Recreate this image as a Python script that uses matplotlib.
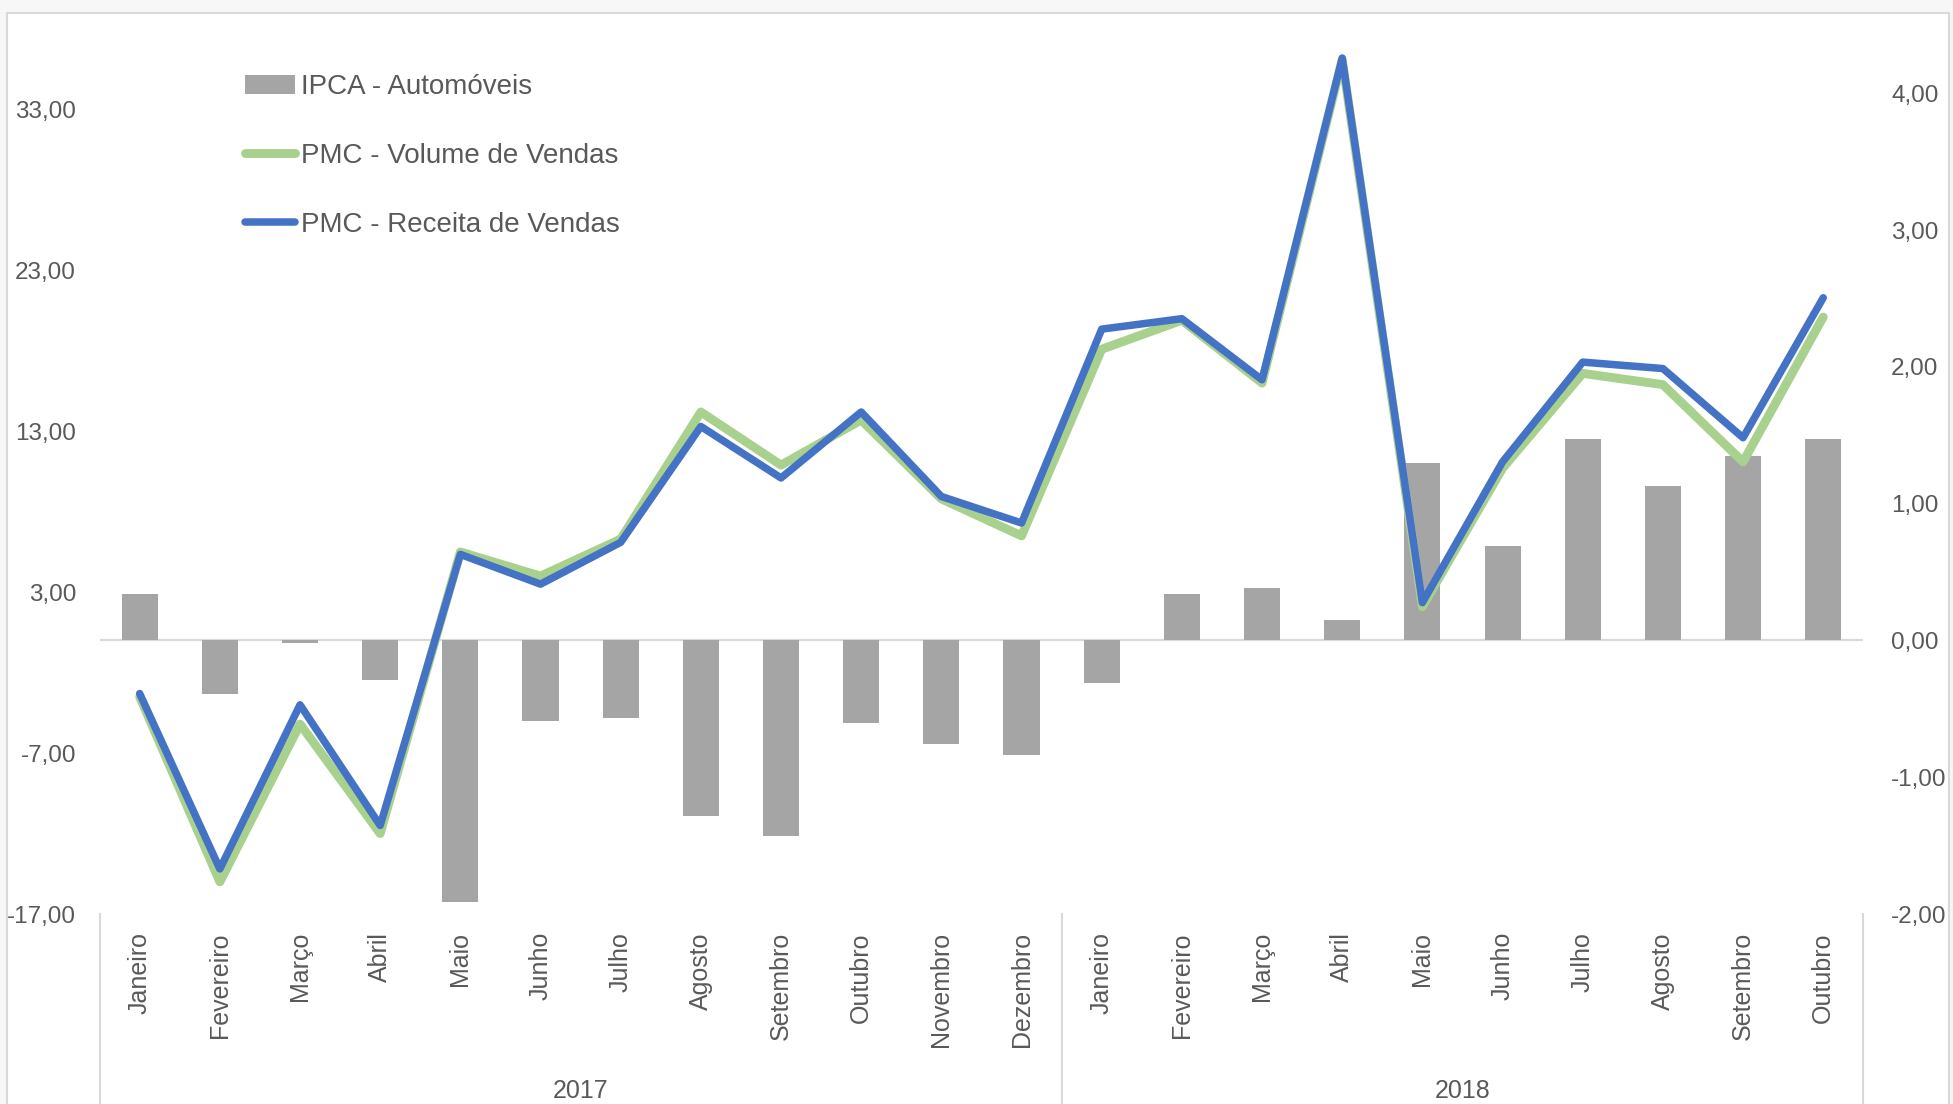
import matplotlib
matplotlib.use('Agg')
import matplotlib.pyplot as plt
from matplotlib.patches import Rectangle, Patch
from matplotlib.lines import Line2D
import matplotlib.transforms as mtransforms

plt.rcParams['font.family'] = ['Liberation Sans', 'DejaVu Sans']

# ---------------- data ----------------
months = ['Janeiro', 'Fevereiro', 'Março', 'Abril', 'Maio', 'Junho', 'Julho',
          'Agosto', 'Setembro', 'Outubro', 'Novembro', 'Dezembro',
          'Janeiro', 'Fevereiro', 'Março', 'Abril', 'Maio', 'Junho', 'Julho',
          'Agosto', 'Setembro', 'Outubro']
years = ['2017', '2018']
year_counts = [12, 10]

ipca_auto = [0.34, -0.39, -0.02, -0.29, -1.91, -0.59, -0.57, -1.28, -1.43, -0.60,
             -0.76, -0.84, -0.31, 0.34, 0.38, 0.15, 1.30, 0.69, 1.47, 1.13, 1.35, 1.47]
pmc_volume = [-3.5, -15.0, -5.2, -12.0, 5.5, 4.0, 6.3, 14.2, 10.9, 13.7, 8.8, 6.5,
              18.1, 19.9, 16.0, 36.1, 2.1, 10.7, 16.6, 15.9, 11.1, 20.1]
pmc_receita = [-3.3, -14.2, -4.0, -11.5, 5.35, 3.5, 6.1, 13.3, 10.1, 14.2, 8.95, 7.3,
               19.35, 20.0, 16.2, 36.2, 2.35, 11.1, 17.3, 16.9, 12.6, 21.3]

left_ticks = [-17, -7, 3, 13, 23, 33]
right_ticks = [-2, -1, 0, 1, 2, 3, 4]

labels = ['IPCA - Automóveis', 'PMC - Volume de Vendas', 'PMC - Receita de Vendas']
bar_color = '#a5a5a5'
green = '#a9d18e'
blue = '#4472c4'
text_color = '#595959'
grid_color = '#d9d9d9'

# ---------------- figure ----------------
W, H = 1953, 1104
fig = plt.figure(figsize=(W / 100, H / 100), dpi=100)
fig.patch.set_facecolor('#f7f7f7')
fig.patches.append(Rectangle((7 / W, -0.01), (1949 - 7) / W, (H - 12.5) / H + 0.01,
                             transform=fig.transFigure, facecolor='white',
                             edgecolor=grid_color, lw=1.5, zorder=-5))

ax_left, ax_right, ax_bottom, ax_top = 99.6, 1863.3, 914, 14
ax = fig.add_axes([ax_left / W, (H - ax_bottom) / H,
                   (ax_right - ax_left) / W, (ax_bottom - ax_top) / H])
ax2 = ax.twinx()
ax.set_zorder(ax2.get_zorder() + 1)
ax.patch.set_visible(False)
ax2.patch.set_visible(False)

x = list(range(len(months)))

# bars on the secondary (right) axis
ax2.bar(x, ipca_auto, width=0.45, color=bar_color, zorder=2)

# lines on the primary (left) axis
ax.plot(x, pmc_volume, color=green, lw=6.4, solid_capstyle='round',
        solid_joinstyle='round', zorder=3)
ax.plot(x, pmc_receita, color=blue, lw=5.4, solid_capstyle='round',
        solid_joinstyle='round', zorder=4)

ytop = -17 + (ax_bottom - ax_top) / 16.09
ax.set_ylim(-17, ytop)
ax2.set_ylim(-2, ytop / 8.5)
ax.set_xlim(-0.5, len(months) - 0.5)

ax2.axhline(0, color=grid_color, lw=1.6, zorder=1)

for a in (ax, ax2):
    for s in a.spines.values():
        s.set_visible(False)

ax.set_yticks(left_ticks)
ax.set_yticklabels([f'{v:.2f}'.replace('.', ',') for v in left_ticks])
ax2.set_yticks(right_ticks)
ax2.set_yticklabels([f'{v:.2f}'.replace('.', ',') for v in right_ticks])
ax.tick_params(axis='y', length=0, pad=17, labelsize=17.5, labelcolor=text_color)
ax2.tick_params(axis='y', length=0, pad=20, labelsize=17.5, labelcolor=text_color)

ax.set_xticks(x)
ax.set_xticklabels(months, rotation=90, va='top', ha='center')
ax.tick_params(axis='x', length=0, pad=13, labelsize=18, labelcolor=text_color)

# group separators and year labels
trans = mtransforms.blended_transform_factory(ax.transData, ax.transAxes)
bounds = [-0.5]
for c in year_counts:
    bounds.append(bounds[-1] + c)
for b in bounds:
    ax.add_line(Line2D([b, b], [0, -0.25], transform=trans, color=grid_color,
                       lw=1.5, clip_on=False))
for i, yr in enumerate(years):
    cx = (bounds[i] + bounds[i + 1]) / 2
    ax.text(cx, (ax_bottom - 1091) / (ax_bottom - ax_top), yr, transform=trans,
            ha='center', va='center', fontsize=18, color=text_color)

# legend
handles = [Patch(facecolor=bar_color, edgecolor='none'),
           Line2D([], [], color=green, lw=6.4, solid_capstyle='round'),
           Line2D([], [], color=blue, lw=5.4, solid_capstyle='round')]
fig.legend(handles, labels, loc='upper left',
           bbox_to_anchor=(245 / W, 1 - 74 / H), bbox_transform=fig.transFigure,
           frameon=False, fontsize=20, labelcolor=text_color,
           handlelength=1.8, handleheight=0.7, handletextpad=0.2,
           labelspacing=1.55, borderpad=0, borderaxespad=0)

fig.savefig('out.png', dpi=100, facecolor=fig.get_facecolor())
